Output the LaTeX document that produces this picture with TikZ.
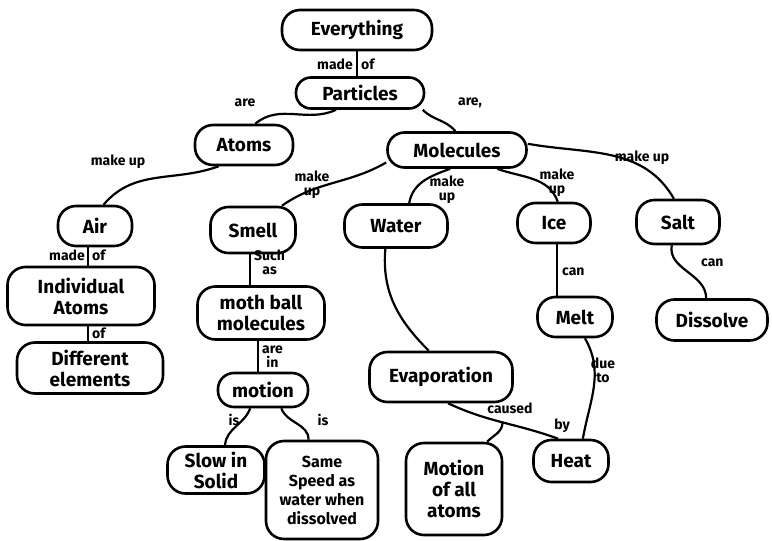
\documentclass[tikz,border=0pt]{standalone}
\usepackage{fontspec}
\setmainfont{Fira Sans}
\begin{document}
\begin{tikzpicture}[x=1pt,y=-1pt,
  box/.style={draw, line width=2.6pt, rounded corners=18pt, font=\fontsize{19}{21}\selectfont\bfseries, align=center, inner sep=2pt},
  lbl/.style={font=\fontsize{14}{14}\selectfont\bfseries, align=center, inner sep=1pt},
  link/.style={line width=2.2pt}]
\useasboundingbox (0,0) rectangle (772,541);
% nodes
\node[box, minimum width=150, minimum height=40] (every) at (357,30) {Everything};
\node[box, rounded corners=15pt, minimum width=128, minimum height=31] (part) at (360,93) {Particles};
\node[box, minimum width=98, minimum height=40] (atoms) at (244,145) {Atoms};
\node[box, rounded corners=17pt, minimum width=139, minimum height=35] (mol) at (457,150) {Molecules};
\node[box, minimum width=74, minimum height=40] (air) at (95,226) {Air};
\node[box, minimum width=147, minimum height=58] (ind) at (81,296) {Individual\\Atoms};
\node[box, minimum width=146, minimum height=51] (diff) at (90,368) {Different\\elements};
\node[box, minimum width=85, minimum height=46] (smell) at (253,230) {Smell};
\node[box, minimum width=127, minimum height=53] (moth) at (261,313) {moth ball\\molecules};
\node[box, rounded corners=16pt, minimum width=90, minimum height=34] (motion) at (263,390) {motion};
\node[box, font=\fontsize{16}{19}\selectfont\bfseries, minimum width=112, minimum height=98] (same) at (322,490) {Same\\Speed as\\water when\\dissolved};
\node[box, minimum width=97, minimum height=47] (slow) at (216,470) {Slow in\\Solid};
\node[box, minimum width=103, minimum height=43] (water) at (396,226) {Water};
\node[box, minimum width=143, minimum height=50] (evap) at (441,377) {Evaporation};
\node[box, minimum width=96, minimum height=92] (mot) at (454,489) {Motion\\of all\\atoms};
\node[box, minimum width=73, minimum height=40] (ice) at (554,223) {Ice};
\node[box, minimum width=75, minimum height=40] (melt) at (575,317) {Melt};
\node[box, minimum width=75, minimum height=42] (heat) at (571,461) {Heat};
\node[box, minimum width=83, minimum height=44] (salt) at (678,222) {Salt};
\node[box, minimum width=111, minimum height=41] (diss) at (712,320) {Dissolve};
% labels
\node[lbl, anchor=east] (l1a) at (354,64) {made};
\node[lbl, anchor=west] (l1b) at (360,64) {of};
\node[lbl] (l2) at (245,103) {are};
\node[lbl] (l3) at (470,103) {are,};
\node[lbl] (l4) at (118,162) {make up};
\node[lbl, anchor=east] (l5a) at (86,255) {made};
\node[lbl, anchor=west] (l5b) at (91,255) {of};
\node[lbl, anchor=west] (l6) at (91,333) {of};
\node[lbl] (l7) at (312,185) {make\\up};
\node[lbl, anchor=west] (l8) at (253,262) {Such\\as};
\node[lbl, anchor=west] (l9) at (261,357) {are\\in};
\node[lbl] (l10) at (234,420) {is};
\node[lbl] (l11) at (323,420) {is};
\node[lbl] (l12) at (447,190) {make\\up};
\node[lbl] (l13) at (557,183) {make\\up};
\node[lbl] (l14) at (642,158) {make up};
\node[lbl, anchor=west] (l15) at (561,272) {can};
\node[lbl, anchor=west] (l16) at (700,263) {can};
\node[lbl] (l17) at (603,370) {due\\to};
\node[lbl] (l18) at (510,408) {caused};
\node[lbl] (l19) at (562,426) {by};
% links
\draw[link] (every.south) -- (every.south |- part.north);
\draw[link] (part.215) to[out=205,in=40] (atoms.62);
\draw[link] (part.-15) to[out=-45,in=130] (mol.95);
\draw[link] (atoms.220) to[out=200,in=50] (air.68);
\draw[link] ([xshift=-7pt]air.south) -- ([xshift=-7pt]air.south |- ind.north);
\draw[link] ([xshift=7pt]ind.south) -- ([xshift=7pt]ind.south |- diff.north);
\draw[link] (mol.190) to[out=210,in=35] (smell.40);
\draw[link] ([xshift=-3pt]smell.south) -- ([xshift=-3pt]smell.south |- moth.north);
\draw[link] ([xshift=-3pt]moth.south) -- ([xshift=-3pt]moth.south |- motion.north);
\draw[link] (motion.235) to[out=250,in=85] (slow.70);
\draw[link] (motion.-45) to[out=-70,in=90] (same.105);
\draw[link] (mol.250) to[out=200,in=80] (water.60);
\draw[link] (water.245) to[out=-95,in=135] (evap.115);
\draw[link] (mol.-25) to[out=-20,in=110] (ice.80);
\draw[link] ([xshift=3pt]ice.south) -- ([xshift=3pt]ice.south |- melt.north);
\draw[link] (melt.-65) to[out=-60,in=80] (heat.62);
\draw[link] (mol.5) to[out=-10,in=120] (salt.100);
\draw[link] (salt.-105) to[out=-100,in=90] (diss.105);
\draw[link] (evap.-75) to[out=-25,in=160] coordinate[pos=0.5] (br) (heat.120);
\draw[link] (br) to[out=-90,in=45] (mot.55);
\end{tikzpicture}
\end{document}
